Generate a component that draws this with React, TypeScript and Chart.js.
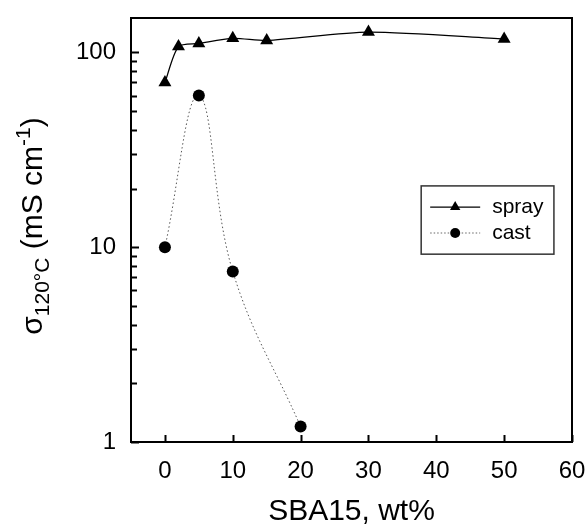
import React, { useEffect, useRef } from "react";
import { Chart, registerables } from "chart.js";

Chart.register(...registerables);

// ---- data ----
const sprayX = [0, 2, 5, 10, 15, 30, 50];
const sprayY = [70, 107, 111, 118, 115, 127, 117];
const castX = [0, 5, 10, 20];
const castY = [10, 60, 7.5, 1.2];
const xTickValues = [0, 10, 20, 30, 40, 50, 60];
const yMajorTicks = [1, 10, 100];
const yMinorTicks = [2, 3, 4, 5, 6, 7, 8, 9, 20, 30, 40, 50, 60, 70, 80, 90];
const legendLabels = ["spray", "cast"];
const xTitle = "SBA15, wt%";
const yTitleParts = [
  { text: "σ", kind: "main" },
  { text: "120°C", kind: "sub" },
  { text: " (mS cm", kind: "main" },
  { text: "-1", kind: "sup" },
  { text: ")", kind: "main" },
];

const FONT = "'Liberation Sans', Arial, sans-serif";

const framePlugin = {
  id: "frame",
  afterDraw(chart: any) {
    const ctx = chart.ctx as CanvasRenderingContext2D;
    const { left, right, top, bottom } = chart.chartArea;
    const xs = chart.scales.x;
    const ys = chart.scales.y;
    ctx.save();
    ctx.strokeStyle = "#000";
    ctx.lineWidth = 2;
    ctx.strokeRect(left, top, right - left, bottom - top);
    // inward ticks
    ctx.beginPath();
    xTickValues.forEach((v) => {
      const px = Math.round(xs.getPixelForValue(v)) + 0.5;
      ctx.moveTo(px, bottom);
      ctx.lineTo(px, bottom - 7);
    });
    yMajorTicks.forEach((v) => {
      const py = Math.round(ys.getPixelForValue(v)) + 0.5;
      ctx.moveTo(left, py);
      ctx.lineTo(left + 8, py);
    });
    yMinorTicks.forEach((v) => {
      const py = Math.round(ys.getPixelForValue(v)) + 0.5;
      ctx.moveTo(left, py);
      ctx.lineTo(left + 6, py);
    });
    ctx.lineWidth = 2;
    ctx.stroke();

    // x title
    ctx.fillStyle = "#000";
    ctx.font = `30px ${FONT}`;
    ctx.textAlign = "center";
    ctx.textBaseline = "middle";
    ctx.fillText(xTitle, (left + right) / 2, 512);

    // y title (rotated, with sub/superscripts)
    const sizes: any = { main: 30, sub: 21, sup: 21 };
    const shifts: any = { main: 0, sub: 7, sup: -12 };
    let total = 0;
    yTitleParts.forEach((p) => {
      ctx.font = `${sizes[p.kind]}px ${FONT}`;
      total += ctx.measureText(p.text).width;
    });
    ctx.save();
    ctx.translate(42, (top + bottom) / 2 - 4);
    ctx.rotate(-Math.PI / 2);
    ctx.textAlign = "left";
    ctx.textBaseline = "alphabetic";
    let cx = -total / 2;
    yTitleParts.forEach((p) => {
      ctx.font = `${sizes[p.kind]}px ${FONT}`;
      ctx.fillText(p.text, cx, shifts[p.kind]);
      cx += ctx.measureText(p.text).width;
    });
    ctx.restore();

    // legend
    const w = right - left;
    const h = bottom - top;
    const lx = left + w * 0.658;
    const ly = top + h * 0.396;
    const lw = w * 0.301;
    const lh = h * 0.161;
    ctx.lineWidth = 1.5;
    ctx.strokeStyle = "#333";
    ctx.strokeRect(lx, ly, lw, lh);
    const rows = [ly + lh * 0.31, ly + lh * 0.69];
    const sx0 = lx + 9;
    const sx1 = lx + 59;
    const mx = lx + 34;
    // spray row
    ctx.strokeStyle = "#000";
    ctx.lineWidth = 1.3;
    ctx.setLineDash([]);
    ctx.beginPath();
    ctx.moveTo(sx0, rows[0]);
    ctx.lineTo(sx1, rows[0]);
    ctx.stroke();
    const tr = 6;
    ctx.beginPath();
    ctx.moveTo(mx, rows[0] - tr);
    ctx.lineTo(mx + tr * 0.866, rows[0] + tr * 0.5);
    ctx.lineTo(mx - tr * 0.866, rows[0] + tr * 0.5);
    ctx.closePath();
    ctx.fill();
    // cast row
    ctx.strokeStyle = "#666";
    ctx.lineWidth = 1;
    ctx.setLineDash([1.5, 2]);
    ctx.beginPath();
    ctx.moveTo(sx0, rows[1]);
    ctx.lineTo(sx1, rows[1]);
    ctx.stroke();
    ctx.setLineDash([]);
    ctx.beginPath();
    ctx.arc(mx, rows[1], 5, 0, Math.PI * 2);
    ctx.fill();
    ctx.font = `21px ${FONT}`;
    ctx.textAlign = "left";
    ctx.textBaseline = "middle";
    ctx.fillStyle = "#000";
    ctx.fillText(legendLabels[0], lx + 71, rows[0]);
    ctx.fillText(legendLabels[1], lx + 71, rows[1]);
    ctx.restore();
  },
};

export default function App() {
  const ref = useRef<HTMLCanvasElement>(null);
  useEffect(() => {
    if (!ref.current) return;
    const chart = new Chart(ref.current, {
      type: "line",
      data: {
        datasets: [
          {
            label: legendLabels[0],
            data: sprayX.map((x, i) => ({ x, y: sprayY[i] })),
            borderColor: "#000",
            backgroundColor: "#000",
            borderWidth: 1.3,
            pointStyle: "triangle",
            pointRadius: 7.5,
            pointBorderWidth: 0,
            tension: 0.25,
          },
          {
            label: legendLabels[1],
            data: castX.map((x, i) => ({ x, y: castY[i] })),
            borderColor: "#555",
            backgroundColor: "#000",
            borderWidth: 1,
            borderDash: [1.5, 2.5],
            pointStyle: "circle",
            pointRadius: 6,
            pointBorderWidth: 0,
            tension: 0.4,
          },
        ],
      },
      options: {
        responsive: false,
        animation: false,
        layout: { padding: { left: 0, top: 18, right: 16, bottom: 0 } },
        plugins: { legend: { display: false }, tooltip: { enabled: false } },
        scales: {
          x: {
            type: "linear",
            min: -5,
            max: 60,
            afterBuildTicks: (s: any) => {
              s.ticks = xTickValues.map((v) => ({ value: v }));
            },
            afterFit: (s: any) => {
              s.height = 87;
              s.paddingLeft = 0;
              s.paddingRight = 0;
            },
            grid: { display: false, drawTicks: false },
            border: { display: false },
            ticks: {
              color: "#000",
              padding: 15,
              font: { size: 24, family: FONT },
              maxRotation: 0,
            },
          },
          y: {
            type: "logarithmic",
            min: 1,
            max: 150,
            afterBuildTicks: (s: any) => {
              s.ticks = yMajorTicks.map((v) => ({ value: v }));
            },
            afterFit: (s: any) => {
              s.width = 131;
              s.paddingTop = 0;
              s.paddingBottom = 0;
            },
            grid: { display: false, drawTicks: false },
            border: { display: false },
            ticks: {
              color: "#000",
              padding: 15,
              font: { size: 24, family: FONT },
              callback: (v: any) => String(v),
            },
          },
        },
      },
      plugins: [framePlugin],
    });
    return () => chart.destroy();
  }, []);
  return (
    <div style={{ position: "fixed", left: 0, top: 0, width: 588, height: 529, background: "#fff" }}>
      <canvas ref={ref} width={588} height={529} style={{ display: "block" }} />
    </div>
  );
}
